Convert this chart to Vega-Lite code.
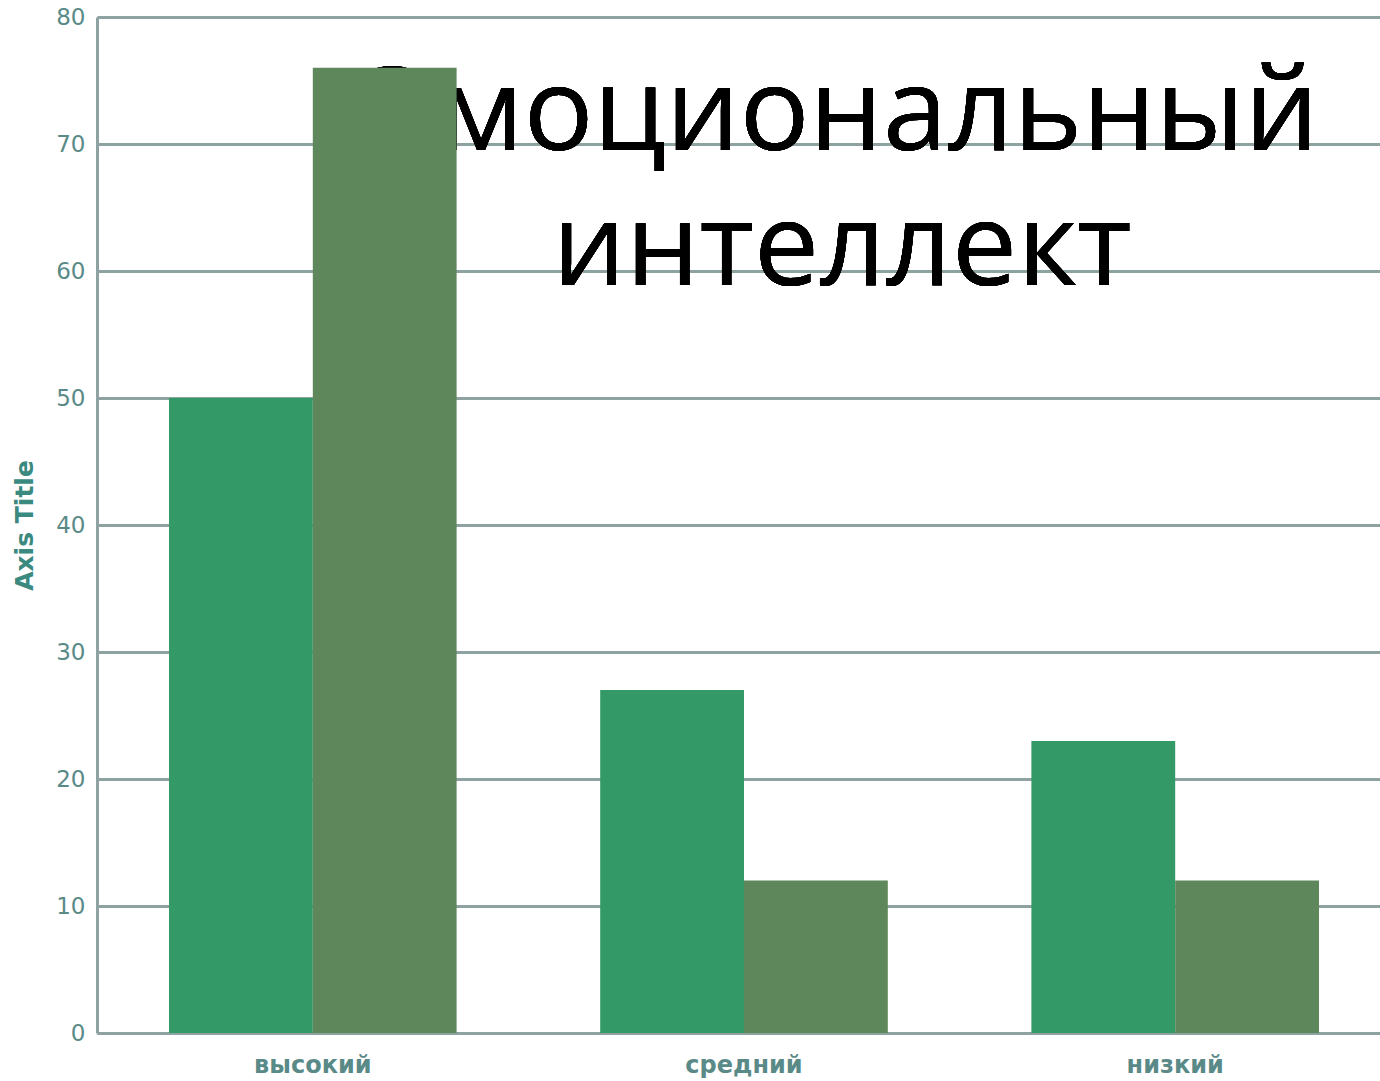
{
  "$schema": "https://vega.github.io/schema/vega-lite/v6.json",
  "autosize": "none",
  "padding": {"left": 97, "top": 17, "right": 0, "bottom": 48},
  "width": 1294,
  "height": 1016,
  "background": "white",
  "data": {"values": [
    {"level": "высокий", "series": "Серия 1", "value": 50},
    {"level": "высокий", "series": "Серия 2", "value": 76},
    {"level": "средний", "series": "Серия 1", "value": 27},
    {"level": "средний", "series": "Серия 2", "value": 12},
    {"level": "низкий", "series": "Серия 1", "value": 23},
    {"level": "низкий", "series": "Серия 2", "value": 12}
  ]},
  "config": {
    "view": {"stroke": null},
    "font": "DejaVu Sans",
    "axisY": {"grid": true, "gridColor": "#8ea3a1", "gridWidth": 3, "gridOpacity": 1}
  },
  "encoding": {
    "y": {
      "type": "quantitative",
      "scale": {"domain": [0, 80], "nice": false},
      "axis": {"title": "Axis Title", "titleFontSize": 25, "titleFontWeight": "bold", "titleColor": "#3b8a7f", "titlePadding": 18, "values": [0,10,20,30,40,50,60,70,80], "labelFontSize": 23, "labelColor": "#5a8a88", "labelPadding": 12, "ticks": false, "domainColor": "#8ea3a1", "domainWidth": 3, "grid": true, "gridColor": "#8ea3a1", "gridWidth": 3}
    }
  },
  "layer": [
    {
      "mark": {"type": "text", "font": "Open Sans", "fontSize": 116, "color": "black", "align": "center", "baseline": "alphabetic", "lineHeight": 135, "dx": 98},
      "encoding": {
        "x": {"datum": "средний", "type": "nominal"},
        "y": {"datum": 69.5, "type": "quantitative"},
        "text": {"value": ["Эмоциональный", "интеллект"]}
      }
    },
    {
      "mark": {"type": "bar"},
      "encoding": {
        "x": {
          "field": "level", "type": "nominal", "sort": ["высокий", "средний", "низкий"],
          "scale": {"paddingInner": 0.333, "paddingOuter": 0.167},
          "axis": {"title": null, "labelAngle": 0, "labelAlign": "center", "labelBaseline": "middle", "labelFontSize": 24, "labelFontWeight": "bold", "labelColor": "#5a8a88", "labelPadding": 32, "ticks": false, "domainColor": "#8ea3a1", "domainWidth": 3, "grid": false}
        },
        "xOffset": {"field": "series", "type": "nominal"},
        "y": {"field": "value", "type": "quantitative"},
        "color": {
          "field": "series", "type": "nominal",
          "scale": {"domain": ["Серия 1", "Серия 2"], "range": ["#339966", "#5f875c"]},
          "legend": null
        }
      }
    }
  ]
}
